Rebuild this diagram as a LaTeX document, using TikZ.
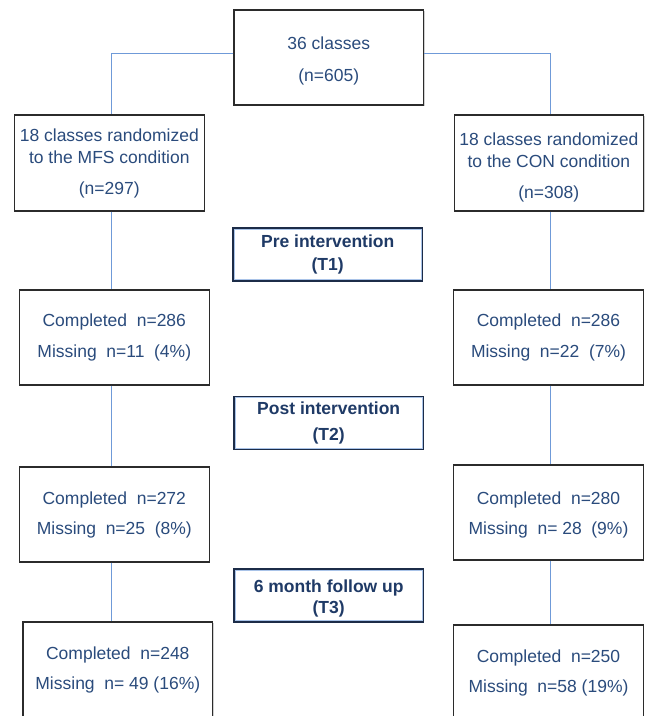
\documentclass[tikz,border=0pt]{standalone}
\usepackage{fontspec}
\setmainfont{Liberation Sans}
\usetikzlibrary{shadows}
\definecolor{txtblue}{HTML}{2A4B7C}
\definecolor{hdrblue}{HTML}{1F3A66}
\definecolor{navy}{HTML}{1C2C48}
\definecolor{linkblue}{HTML}{6F9AD8}
\definecolor{innerblue}{HTML}{A9C3E8}
\definecolor{boxline}{HTML}{2B2B2B}
\newcommand{\gp}{\hspace{0.55em}}
\newcommand{\sh}[1]{\rule{0pt}{\dimexpr13pt+#1\relax}}
\begin{document}
\begin{tikzpicture}[x=1pt,y=-1pt,
  every node/.style={font=\fontsize{17.5}{22}\selectfont, text=txtblue, align=center, inner sep=0pt},
  infobox/.style={draw=boxline, line width=1.1pt, fill=white, minimum width=189.5pt, minimum height=95pt,
    drop shadow={shadow xshift=1.2pt, shadow yshift=-1.2pt, fill=black!30, opacity=0.6}},
  hdrbox/.style={draw=navy, line width=2.2pt, fill=white, minimum width=189pt, minimum height=52pt,
    font=\fontsize{17.5}{23}\selectfont\bfseries, text=hdrblue,
    drop shadow={shadow xshift=1.2pt, shadow yshift=-1.2pt, fill=black!30, opacity=0.6}},
  link/.style={draw=linkblue, line width=0.9pt}
]
\useasboundingbox (0,0) rectangle (647,716);
\clip (0,0) rectangle (647,716);
\fill[white] (0,0) rectangle (647,716);

\coordinate (lx) at (111,0);
\coordinate (rx) at (550,0);
\coordinate (hy) at (0,53);

\node[infobox] (top) at (328.7,57.5) {\sh{6pt}36 classes\\[10pt](n=605)};
\node[infobox, minimum height=96pt] (L1) at (109.3,163) {18 classes randomized\\to the MFS condition\\[9pt](n=297)};
\node[infobox, minimum height=96pt] (R1) at (548.8,163) {\sh{8pt}18 classes randomized\\to the CON condition\\[9pt](n=308)};
\node[hdrbox] (pre) at (327.7,254.5) {Pre intervention\\(T1)};
\node[infobox] (L2) at (114.3,337.5) {Completed\gp n=286\\[9pt]Missing\gp n=11\gp (4\%)};
\node[infobox] (R2) at (548.5,337.5) {Completed\gp n=286\\[9pt]Missing\gp n=22\gp (7\%)};
\node[hdrbox] (post) at (328.7,423) {Post intervention\\[3pt](T2)};
\node[infobox] (L3) at (114.3,514.5) {Completed\gp n=272\\[8pt]Missing\gp n=25\gp (8\%)};
\node[infobox] (R3) at (548.5,512.5) {\sh{4pt}Completed\gp n=280\\[8pt]Missing\gp n= 28\gp (9\%)};
\node[hdrbox] (fu) at (328.7,595.5) {\sh{6pt}6 month follow up\\[-2pt](T3)};
\node[infobox, minimum width=189.6pt] (L4) at (117.8,669.5) {Completed\gp n=248\\[8pt]Missing\gp n= 49 (16\%)};
\node[infobox] (R4) at (548.5,672.5) {Completed\gp n=250\\[8pt]Missing\gp n=58 (19\%)};

% inner light lines of the header boxes
\foreach \h in {pre,post,fu}{
  \draw[innerblue, line width=0.7pt] ([shift={(1.8,1.8)}]\h.north west) rectangle ([shift={(-1.8,-1.8)}]\h.south east);
}

% connectors
\draw[link] (top.west |- hy) -| (lx |- L1.north);
\draw[link] (top.east |- hy) -| (rx |- R1.north);
\draw[link] (lx |- L1.south) -- (lx |- L2.north);
\draw[link] (rx |- R1.south) -- (rx |- R2.north);
\draw[link] (lx |- L2.south) -- (lx |- L3.north);
\draw[link] (rx |- R2.south) -- (rx |- R3.north);
\draw[link] (lx |- L3.south) -- (lx |- L4.north);
\draw[link] (rx |- R3.south) -- (rx |- R4.north);
\end{tikzpicture}
\end{document}
